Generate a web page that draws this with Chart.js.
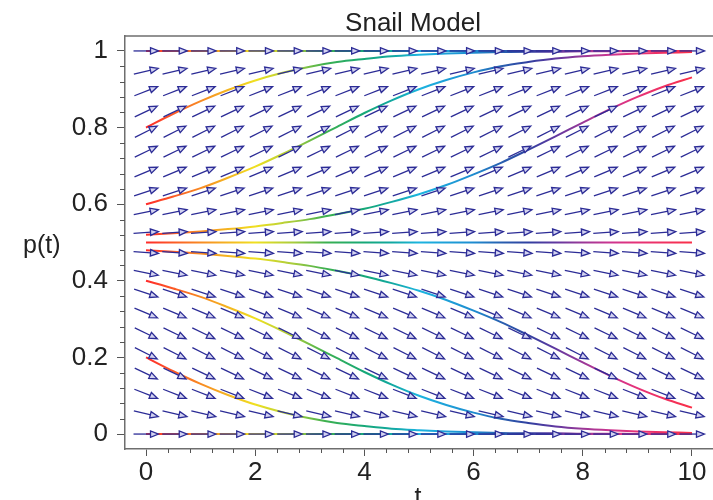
<!DOCTYPE html>
<html>
<head>
<meta charset="utf-8">
<title>Snail Model</title>
<script src="https://cdn.jsdelivr.net/npm/chart.js@4.4.1/dist/chart.umd.min.js"></script>
<style>
  body { margin: 0; background: #fff; }
  canvas { display: block; }
</style>
</head>
<body>
<canvas id="snailChart" width="713" height="500"></canvas>
<script>
// solution curves p(t), every 0.5 in t
const curveT = [0, 0.5, 1, 1.5, 2, 2.5, 3, 3.5, 4, 4.5, 5, 5.5, 6, 6.5, 7, 7.5, 8, 8.5, 9, 9.5, 10];
const fromP80 = [0.8, 0.836, 0.869, 0.898, 0.923, 0.943, 0.959, 0.971, 0.979, 0.986, 0.990, 0.993, 0.995, 0.997, 0.998, 0.998, 0.999, 0.999, 1.0, 1.0, 1.0];
const fromP60 = [0.6, 0.620, 0.642, 0.669, 0.698, 0.731, 0.766, 0.802, 0.838, 0.871, 0.900, 0.924, 0.944, 0.960, 0.971, 0.980, 0.986, 0.990, 0.993, 0.995, 0.997];
const fromP52 = [0.52, 0.524, 0.529, 0.535, 0.542, 0.551, 0.561, 0.574, 0.588, 0.606, 0.626, 0.650, 0.678, 0.708, 0.742, 0.777, 0.813, 0.848, 0.880, 0.908, 0.931];
const fromP48 = [0.48, 0.476, 0.471, 0.465, 0.458, 0.449, 0.439, 0.426, 0.412, 0.394, 0.374, 0.350, 0.322, 0.292, 0.258, 0.223, 0.187, 0.152, 0.120, 0.092, 0.069];
const fromP40 = [0.4, 0.380, 0.358, 0.331, 0.302, 0.269, 0.234, 0.198, 0.162, 0.129, 0.100, 0.076, 0.056, 0.040, 0.029, 0.020, 0.014, 0.010, 0.007, 0.005, 0.003];
const fromP20 = [0.2, 0.164, 0.131, 0.102, 0.077, 0.057, 0.041, 0.029, 0.021, 0.014, 0.010, 0.007, 0.005, 0.003, 0.002, 0.002, 0.001, 0.001, 0.0, 0.0, 0.0];

// the three equilibrium solutions are flat
const flatT = [0, 10];
const flatP1 = [1, 1];
const flatP05 = [0.5, 0.5];
const flatP0 = [0, 0];

// direction field: 20 x 20 grid, one slope dp/dt per row
const arrowT = [0, 0.526, 1.053, 1.579, 2.105, 2.632, 3.158, 3.684, 4.211, 4.737, 5.263, 5.789, 6.316, 6.842, 7.368, 7.895, 8.421, 8.947, 9.474, 10];
const arrowP = [0, 0.053, 0.105, 0.158, 0.211, 0.263, 0.316, 0.368, 0.421, 0.474, 0.526, 0.579, 0.632, 0.684, 0.737, 0.789, 0.842, 0.895, 0.947, 1];
const arrowSlope = [0, -0.033, -0.056, -0.068, -0.072, -0.069, -0.060, -0.046, -0.029, -0.010, 0.010, 0.029, 0.046, 0.060, 0.069, 0.072, 0.068, 0.056, 0.033, 0];

const xMajor = [0, 2, 4, 6, 8, 10];
const yMajor = [0, 0.2, 0.4, 0.6, 0.8, 1];

const FONT = "'Liberation Sans', Arial, Helvetica, sans-serif";
const AXIS_GRAY = '#6e6e6e';
const ARROW_BLUE = '#2c2c96';

// rainbow along t (fraction of 0..10)
const rainbow = [
  [0, '#ff2a2a'], [0.1, '#f88a22'], [0.2, '#f0e020'], [0.27, '#a8cc3c'],
  [0.33, '#3cb050'], [0.4, '#16a878'], [0.45, '#12a8a0'], [0.5, '#1cb4e0'],
  [0.6, '#1e8cd0'], [0.65, '#2860b0'], [0.7, '#3040a0'], [0.75, '#6038a0'],
  [0.8, '#9a3898'], [0.85, '#cc3590'], [0.9, '#e63278'], [1, '#fa3048']
];

let gradCache = null;
function curveColor(context) {
  const chart = context.chart;
  if (!chart.chartArea) return '#ff2a2a';
  const xs = chart.scales.x;
  const x0 = xs.getPixelForValue(0), x1 = xs.getPixelForValue(10);
  if (!gradCache || gradCache.x0 !== x0 || gradCache.x1 !== x1) {
    const g = chart.ctx.createLinearGradient(x0, 0, x1, 0);
    rainbow.forEach(s => g.addColorStop(s[0], s[1]));
    gradCache = { x0, x1, g };
  }
  return gradCache.g;
}

function pts(ts, ps) {
  return ts.map((t, i) => ({ x: t, y: ps[i] }));
}

function curve(ts, ps) {
  return {
    type: 'line',
    data: pts(ts, ps),
    borderColor: curveColor,
    borderWidth: 2,
    pointRadius: 0,
    fill: false,
    cubicInterpolationMode: 'monotone'
  };
}

const arrowPoints = [];
arrowP.forEach((p, j) => {
  arrowT.forEach(t => arrowPoints.push({ x: t, y: p, s: arrowSlope[j] }));
});

// draws an arrow on every point of the field dataset, at the position the scales gave it
const arrowPlugin = {
  id: 'arrows',
  afterDatasetsDraw(chart) {
    const idx = chart.data.datasets.findIndex(d => d.label === 'field');
    const meta = chart.getDatasetMeta(idx);
    const xs = chart.scales.x, ys = chart.scales.y;
    const ctx = chart.ctx;
    ctx.save();
    ctx.strokeStyle = ARROW_BLUE;
    ctx.fillStyle = '#d2d2f0';
    ctx.lineWidth = 1.3;
    ctx.lineJoin = 'miter';
    meta.data.forEach((el, i) => {
      const pt = arrowPoints[i];
      const dx = xs.getPixelForValue(pt.x + 1) - xs.getPixelForValue(pt.x);
      const dy = ys.getPixelForValue(pt.y + pt.s) - ys.getPixelForValue(pt.y);
      const a = Math.atan2(dy, dx);
      ctx.save();
      ctx.translate(el.x, el.y);
      ctx.rotate(a);
      ctx.beginPath();
      ctx.moveTo(-12.5, 0);
      ctx.lineTo(5, 0);
      ctx.stroke();
      ctx.beginPath();
      ctx.moveTo(12.5, 0);
      ctx.lineTo(4.5, -3.2);
      ctx.lineTo(4.5, 3.2);
      ctx.closePath();
      ctx.fill();
      ctx.stroke();
      ctx.restore();
    });
    ctx.restore();
  }
};

// top frame line, minor ticks and the texts
const framePlugin = {
  id: 'frame',
  afterDraw(chart) {
    const { ctx, chartArea, scales: { x, y } } = chart;
    ctx.save();
    ctx.strokeStyle = AXIS_GRAY;
    ctx.lineWidth = 1.5;
    ctx.beginPath();
    ctx.moveTo(chartArea.left, chartArea.top);
    ctx.lineTo(chart.width, chartArea.top);
    ctx.stroke();

    ctx.strokeStyle = '#555';
    ctx.lineWidth = 1;
    ctx.beginPath();
    for (let k = 0; k <= 25; k++) {
      if (k % 5 === 0) continue;
      const px = Math.round(x.getPixelForValue(k * 0.4)) + 0.5;
      ctx.moveTo(px, chartArea.bottom);
      ctx.lineTo(px, chartArea.bottom + 4);
    }
    for (let k = 0; k <= 25; k++) {
      if (k % 5 === 0) continue;
      const py = Math.round(y.getPixelForValue(k * 0.04)) + 0.5;
      ctx.moveTo(chartArea.left, py);
      ctx.lineTo(chartArea.left - 5, py);
    }
    ctx.stroke();

    ctx.fillStyle = '#222';
    ctx.font = '26px ' + FONT;
    ctx.textAlign = 'center';
    ctx.textBaseline = 'alphabetic';
    ctx.fillText('Snail Model', 413, 31);
    ctx.font = '25px ' + FONT;
    ctx.fillText('t', 418, 505);
    ctx.textAlign = 'left';
    ctx.fillText('p(t)', 23, 253);
    ctx.restore();
  }
};

new Chart(document.getElementById('snailChart'), {
  type: 'scatter',
  data: {
    datasets: [
      curve(flatT, flatP1),
      curve(curveT, fromP80),
      curve(curveT, fromP60),
      curve(curveT, fromP52),
      curve(flatT, flatP05),
      curve(curveT, fromP48),
      curve(curveT, fromP40),
      curve(curveT, fromP20),
      curve(flatT, flatP0),
      {
        label: 'field',
        type: 'scatter',
        data: arrowPoints,
        pointRadius: 0
      }
    ]
  },
  options: {
    responsive: false,
    animation: false,
    events: [],
    devicePixelRatio: 1,
    layout: { padding: { top: 36, left: 0, right: 0, bottom: 0 } },
    plugins: {
      legend: { display: false },
      title: { display: false },
      tooltip: { enabled: false }
    },
    scales: {
      x: {
        type: 'linear',
        min: -0.385,
        max: 10.385,
        border: { color: AXIS_GRAY, width: 1.5 },
        grid: { drawOnChartArea: false, tickLength: 7, tickColor: '#555' },
        ticks: {
          font: { family: FONT, size: 26 },
          color: '#222',
          padding: 1,
          autoSkip: false,
          maxRotation: 0,
          callback: v => String(v)
        },
        afterBuildTicks: s => { s.ticks = xMajor.map(v => ({ value: v })); },
        afterFit: s => {
          s.height = 51;
          s.paddingLeft = 0;
          s.paddingRight = 0;
        }
      },
      y: {
        type: 'linear',
        min: -0.039,
        max: 1.039,
        border: { color: AXIS_GRAY, width: 1.5 },
        grid: { drawOnChartArea: false, tickLength: 8, tickColor: '#555' },
        ticks: {
          font: { family: FONT, size: 26 },
          color: '#222',
          padding: 9,
          callback: v => String(v)
        },
        afterBuildTicks: s => { s.ticks = yMajor.map(v => ({ value: v })); },
        afterFit: s => {
          s.width = 125;
          s.paddingTop = 0;
          s.paddingBottom = 0;
        }
      }
    }
  },
  plugins: [arrowPlugin, framePlugin]
});
</script>
</body>
</html>
